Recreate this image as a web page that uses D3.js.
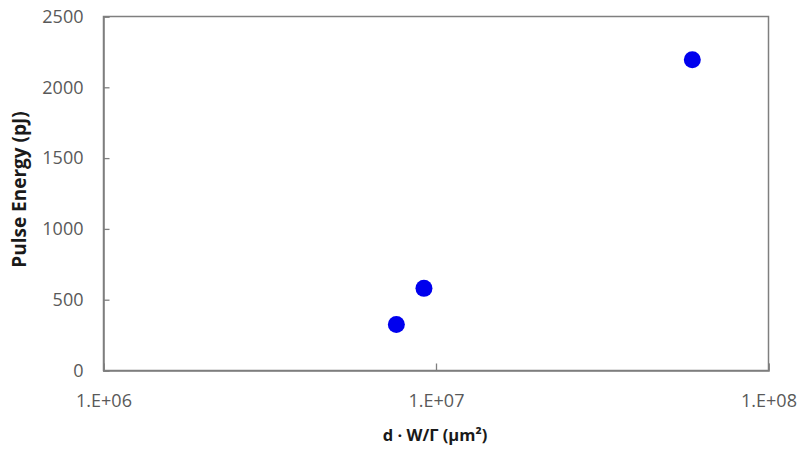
<!DOCTYPE html>
<html><head><meta charset="utf-8">
<script src="https://cdn.jsdelivr.net/npm/d3@7"></script>
<style>body{margin:0;background:#fff}</style>
</head><body>
<svg id="c" width="804" height="449"></svg>
<script>
const xValues = [7.6e6, 9.2e6, 5.9e7];
const yValues = [325, 580, 2195];
const xTicks = [1e6, 1e7, 1e8];
const xTickLabels = ["1.E+06", "1.E+07", "1.E+08"];
const yTicks = [0, 500, 1000, 1500, 2000, 2500];

(function () {
const svg = d3.select("#c");
const mLeft = 103.5, mRight = 768.5, mTop = 16.5, mBottom = 370.5;
const x = d3.scaleLog().domain([1e6, 1e8]).range([mLeft, mRight]);
const y = d3.scaleLinear().domain([0, 2500]).range([mBottom, mTop]);
const font = "'Open Sans', 'Liberation Sans', sans-serif";
const axisColor = "#7f7f7f";
const textColor = "#595959";

// frame
svg.append("rect").attr("x", mLeft).attr("y", mTop).attr("width", mRight - mLeft).attr("height", mBottom - mTop)
  .attr("fill", "none").attr("stroke", axisColor).attr("stroke-width", 1.5);

// y axis
const ya = svg.append("g").attr("transform", `translate(${mLeft},0)`)
  .call(d3.axisLeft(y).tickValues(yTicks).tickSize(-6).tickPadding(20).tickFormat(d3.format("d")));
ya.select(".domain").attr("stroke", axisColor).attr("stroke-width", 1.5);
ya.selectAll("line").attr("stroke", axisColor).attr("stroke-width", 1.3);
ya.selectAll("text").attr("fill", textColor).style("font-family", font).style("font-size", "18px");

// x axis
const xa = svg.append("g").attr("transform", `translate(0,${mBottom})`)
  .call(d3.axisBottom(x).tickValues(xTicks).tickSize(-7).tickPadding(24)
    .tickFormat((d, i) => xTickLabels[i]));
xa.select(".domain").attr("stroke", axisColor).attr("stroke-width", 1.5);
xa.selectAll("line").attr("stroke", axisColor).attr("stroke-width", 1.3);
xa.selectAll("text").attr("fill", textColor).style("font-family", font).style("font-size", "18px");

// points
svg.append("g").selectAll("circle").data(xValues).join("circle")
  .attr("cx", d => x(d)).attr("cy", (d, i) => y(yValues[i])).attr("r", 8.5)
  .attr("fill", "#0000ee");

// labels
svg.append("text").attr("transform", `translate(26,${(mTop + mBottom) / 2 - 4}) rotate(-90)`)
  .attr("text-anchor", "middle").attr("fill", "#1a1a1a").style("font-family", font)
  .style("font-size", "19px").style("font-weight", "bold").text("Pulse Energy (pJ)");
svg.append("text").attr("x", 435).attr("y", 441)
  .attr("text-anchor", "middle").attr("fill", "#1a1a1a").style("font-family", font)
  .style("font-size", "16.5px").style("font-weight", "bold").text("d · W/Γ (μm²)");
})();
</script>
</body></html>
